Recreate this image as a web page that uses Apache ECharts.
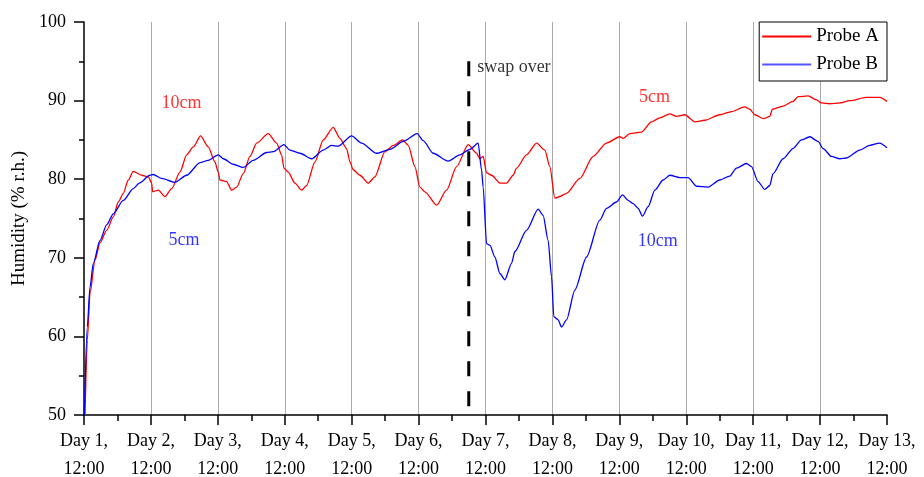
<!DOCTYPE html>
<html>
<head>
<meta charset="utf-8">
<script src="https://cdn.jsdelivr.net/npm/echarts@6/dist/echarts.min.js"></script>
<style>
  html, body { margin: 0; padding: 0; background: #fff; }
  #chart { width: 924px; height: 477px; }
</style>
</head>
<body>
<div id="chart"></div>
<script>
// Time is measured in days after Day 1, 12:00.
const dayLabels = ['Day 1,', 'Day 2,', 'Day 3,', 'Day 4,', 'Day 5,', 'Day 6,', 'Day 7,',
                   'Day 8,', 'Day 9,', 'Day 10,', 'Day 11,', 'Day 12,', 'Day 13,'];
const timeLabel = '12:00';

// Probe A: [day, humidity %r.h.]
const probeA = [
  [0.015, 50], [0.049, 59.5], [0.09, 65.5], [0.164, 69.7], [0.239, 71.9], [0.339, 73.5],
  [0.438, 75.2], [0.512, 77.1], [0.587, 78.2], [0.662, 79.9], [0.736, 81.0], [0.862, 80.5],
  [0.961, 80.3], [1.011, 79.5], [1.026, 78.4], [1.11, 78.6], [1.21, 77.8], [1.31, 78.8],
  [1.434, 80.9], [1.534, 83.1], [1.633, 84.1], [1.743, 85.5], [1.857, 84.1], [1.957, 82.2],
  [2.006, 80.9], [2.032, 79.9], [2.132, 79.7], [2.206, 78.6], [2.281, 79.0], [2.38, 80.7],
  [2.48, 82.9], [2.58, 84.6], [2.753, 85.8], [2.879, 84.6], [2.953, 83.1], [2.988, 81.4],
  [3.052, 80.9], [3.152, 79.5], [3.252, 78.6], [3.327, 79.2], [3.451, 82.2], [3.575, 85.0],
  [3.724, 86.6], [3.824, 85.2], [3.924, 83.9], [3.974, 82.2], [4.023, 81.2], [4.123, 80.5],
  [4.247, 79.5], [4.347, 80.3], [4.497, 83.5], [4.621, 84.3], [4.761, 85.0], [4.845, 84.3],
  [4.945, 81.6], [5.019, 79.0], [5.094, 78.4], [5.269, 76.7], [5.418, 78.6], [5.568, 81.6],
  [5.741, 84.4], [5.866, 83.3], [5.916, 82.6], [5.965, 82.9], [6.016, 80.8], [6.091, 80.5],
  [6.215, 79.5], [6.315, 79.5], [6.413, 80.5], [6.464, 81.4], [6.613, 83.1], [6.763, 84.6],
  [6.887, 83.7], [6.961, 81.6], [7.036, 77.6], [7.111, 77.8], [7.211, 78.2], [7.41, 80.1],
  [7.608, 82.9], [7.808, 84.6], [8.007, 85.4], [8.056, 85.2], [8.157, 85.8], [8.331, 86.0],
  [8.481, 87.3], [8.605, 87.8], [8.754, 88.3], [8.854, 88.0], [8.978, 88.2], [9.128, 87.3],
  [9.277, 87.5], [9.501, 88.2], [9.676, 88.6], [9.875, 89.2], [9.949, 88.9], [10.024, 88.2],
  [10.158, 87.7], [10.248, 88.0], [10.288, 88.9], [10.447, 89.3], [10.596, 89.9], [10.671, 90.5],
  [10.82, 90.6], [10.946, 90.1], [11.02, 89.7], [11.144, 89.6], [11.294, 89.7], [11.443, 90.0],
  [11.693, 90.4], [11.891, 90.4], [12.0, 89.9]
];

// Probe B: [day, humidity %r.h.]
const probeB = [
  [0.005, 50], [0.049, 61.2], [0.09, 66.3], [0.139, 69.3], [0.239, 72.2], [0.339, 74.2],
  [0.438, 75.6], [0.587, 77.3], [0.736, 78.8], [0.826, 79.5], [0.986, 80.5], [1.035, 80.6],
  [1.161, 80.1], [1.359, 79.6], [1.534, 80.5], [1.733, 82.1], [1.857, 82.4], [2.006, 83.1],
  [2.081, 82.6], [2.23, 81.9], [2.38, 81.5], [2.529, 82.4], [2.729, 83.4], [2.828, 83.5],
  [2.988, 84.4], [3.077, 83.7], [3.227, 83.3], [3.402, 82.6], [3.575, 83.7], [3.7, 84.3],
  [3.799, 84.2], [3.999, 85.5], [4.148, 84.6], [4.373, 83.3], [4.571, 83.8], [4.77, 84.8],
  [4.979, 85.8], [5.069, 84.9], [5.218, 83.3], [5.442, 82.3], [5.617, 83.1], [5.766, 83.8],
  [5.89, 84.6], [5.941, 81.2], [5.965, 79.0], [6.016, 71.8], [6.065, 71.6], [6.14, 70.1],
  [6.215, 68.0], [6.289, 67.2], [6.389, 69.3], [6.439, 70.8], [6.613, 73.5], [6.787, 76.2],
  [6.861, 75.4], [6.936, 72.2], [6.987, 67.6], [7.021, 62.5], [7.086, 62.1], [7.136, 61.2],
  [7.211, 62.1], [7.335, 65.9], [7.51, 70.1], [7.708, 74.8], [7.808, 76.3], [7.958, 77.1],
  [8.047, 78.0], [8.131, 77.3], [8.206, 76.9], [8.281, 76.3], [8.346, 75.3], [8.43, 76.5],
  [8.53, 78.6], [8.654, 79.9], [8.754, 80.5], [8.903, 80.2], [9.028, 80.2], [9.153, 79.1],
  [9.326, 79.0], [9.501, 79.9], [9.65, 80.4], [9.75, 81.4], [9.9, 82.0], [9.975, 81.6],
  [10.073, 79.7], [10.173, 78.7], [10.248, 79.2], [10.297, 80.7], [10.447, 82.6], [10.596, 83.9],
  [10.722, 85.0], [10.846, 85.4], [10.97, 84.8], [11.045, 83.9], [11.17, 82.9], [11.294, 82.6],
  [11.394, 82.7], [11.593, 83.7], [11.742, 84.3], [11.891, 84.6], [12.0, 84.0]
];

// Moment the probes were exchanged, and the span of the marker line
const swapDay = 5.75;
const swapSpan = [95, 50];

// Depth annotations: [day, humidity, text, colour]
const notes = [
  [1.457, 89.6, '10cm', '#ff0000'],
  [1.494, 72.2, '5cm', '#0000ff'],
  [8.525, 90.4, '5cm', '#ff0000'],
  [8.575, 72.1, '10cm', '#0000ff']
];
const swapNote = [5.875, 94.3, 'swap over'];

const FONT = '"Liberation Serif", "Times New Roman", serif';

const chart = echarts.init(document.getElementById('chart'), null, { renderer: 'canvas' });

const noteSeries = notes.map(n => ({
  type: 'scatter',
  silent: true,
  symbolSize: 0,
  data: [[n[0], n[1]]],
  label: {
    show: true, position: 'inside', formatter: n[2],
    color: n[3], fontFamily: FONT, fontSize: 18
  },
  z: 5
}));

chart.setOption({
  animation: false,
  backgroundColor: '#ffffff',
  grid: { left: 84, right: 37, top: 22, bottom: 62, outerBoundsMode: 'none', containLabel: false },
  legend: {
    orient: 'vertical',
    right: 37,
    top: 22,
    padding: [5, 8, 7, 3],
    itemGap: 9,
    itemWidth: 49,
    itemHeight: 2,
    borderColor: '#000',
    borderWidth: 1,
    borderRadius: 0,
    backgroundColor: '#fff',
    textStyle: { fontFamily: FONT, fontSize: 19, color: '#000' },
    data: [
      { name: 'Probe A', icon: 'rect', itemStyle: { color: '#ff0000' } },
      { name: 'Probe B', icon: 'rect', itemStyle: { color: '#5555ff' } }
    ]
  },
  xAxis: {
    type: 'value',
    min: 0, max: 12, interval: 1,
    axisLine: { show: true, lineStyle: { color: '#000', width: 1.5 } },
    axisTick: { show: true, length: 10, lineStyle: { color: '#000', width: 1.5 } },
    minorTick: { show: true, splitNumber: 2, length: 6, lineStyle: { color: '#000', width: 1.5 } },
    splitLine: { show: true, showMinLine: false, showMaxLine: false, lineStyle: { color: '#aaaaaa', width: 1 } },
    axisLabel: {
      margin: 12,
      fontFamily: FONT, fontSize: 18, color: '#000', lineHeight: 28,
      formatter: v => dayLabels[Math.round(v)] + '\n' + timeLabel
    }
  },
  yAxis: {
    type: 'value',
    min: 50, max: 100, interval: 10,
    name: 'Humidity (% r.h.)',
    nameLocation: 'middle',
    nameGap: 52,
    nameTextStyle: { fontFamily: FONT, fontSize: 19, color: '#000' },
    axisLine: { show: true, lineStyle: { color: '#000', width: 1.5 } },
    axisTick: { show: true, length: 10, lineStyle: { color: '#000', width: 1.5 } },
    minorTick: { show: true, splitNumber: 2, length: 5, lineStyle: { color: '#000', width: 1.5 } },
    splitLine: { show: false },
    axisLabel: { margin: 18, fontFamily: FONT, fontSize: 18, color: '#000' }
  },
  series: [
    {
      name: 'Probe A', type: 'line', data: probeA, showSymbol: false, symbol: 'none',
      smooth: 0.25, smoothMonotone: 'x',
      lineStyle: { color: '#ff0000', width: 1.3 }, itemStyle: { color: '#ff0000' }, z: 3
    },
    {
      name: 'Probe B', type: 'line', data: probeB, showSymbol: false, symbol: 'none',
      smooth: 0.25, smoothMonotone: 'x',
      lineStyle: { color: '#0000ff', width: 1.3 }, itemStyle: { color: '#0000ff' }, z: 3
    },
    {
      name: 'swap', type: 'line', silent: true, symbol: 'none',
      data: [[swapDay, swapSpan[0]], [swapDay, swapSpan[1]]],
      lineStyle: { color: '#000', width: 3, type: [15, 15] }, z: 4
    },
    {
      type: 'scatter', silent: true, symbolSize: 0,
      data: [[swapNote[0], swapNote[1]]],
      label: {
        show: true, position: 'right', distance: 0, formatter: swapNote[2],
        color: '#000', fontFamily: FONT, fontSize: 18
      },
      z: 5
    },
    ...noteSeries
  ]
});
</script>
</body>
</html>
